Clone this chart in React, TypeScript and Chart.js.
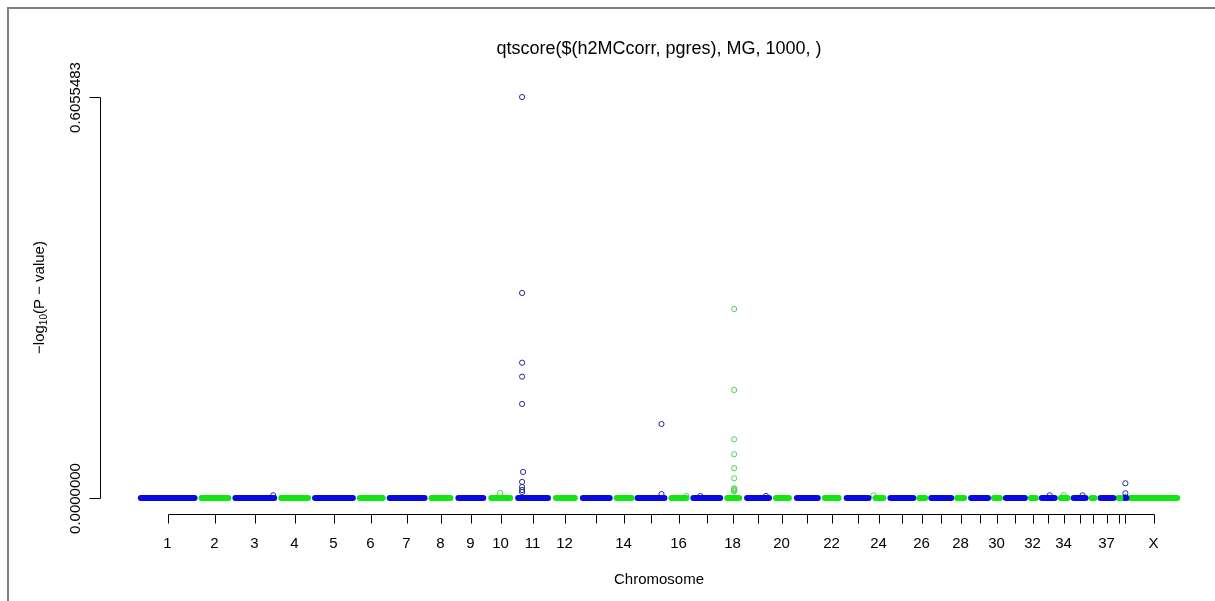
import React, { useEffect, useRef } from 'react';
import { Chart, registerables } from 'chart.js';

Chart.register(...registerables);

// ---------- data ----------
const chartTitle = 'qtscore($(h2MCcorr, pgres), MG, 1000, )';
const xAxisTitle = 'Chromosome';

const chromosomes = [
  '1', '2', '3', '4', '5', '6', '7', '8', '9', '10',
  '11', '12', '13', '14', '15', '16', '17', '18', '19', '20',
  '21', '22', '23', '24', '25', '26', '27', '28', '29', '30',
  '31', '32', '33', '34', '35', '36', '37', '38', '39', 'X',
];

// cumulative map positions (first / last marker) of every chromosome
const chrStart = [
  41, 102, 136, 182, 216, 261, 291, 333, 360, 393,
  420, 458, 485, 519, 540, 574, 596, 630, 650, 679,
  700, 728, 750, 779, 794, 823, 835, 861, 875, 898,
  910, 935, 946, 965, 978, 996, 1005, 1023, 1029, 1035,
];
const chrEnd = [
  95, 129, 175, 209, 254, 284, 326, 352, 385, 412,
  450, 477, 512, 534, 567, 589, 623, 642, 672, 692,
  721, 742, 772, 787, 817, 829, 855, 868, 892, 904,
  929, 940, 959, 972, 990, 999, 1018, 1025, 1031, 1082,
];

// labels R managed to print under the ticks
const chrTickLabels = [
  '1', '2', '3', '4', '5', '6', '7', '8', '9', '10',
  '11', '12', '', '14', '', '16', '', '18', '', '20',
  '', '22', '', '24', '', '26', '', '28', '', '30',
  '', '32', '', '34', '', '', '37', '', '', 'X',
];

// markers standing out of the baseline: chromosome index, position, -log10(P)
const snpChr = [
  2,
  10, 10, 10, 10, 10, 10, 10, 10, 10, 10,
  14, 14,
  16, 18, 32, 34,
  38, 38, 38,
  9, 15,
  17, 17, 17, 17, 17, 17, 17, 17, 17, 17,
  23, 33,
];
const snpPos = [
  174,
  424, 424, 424, 424, 424, 425, 424, 424, 424, 424,
  564, 564,
  603, 669, 954, 987,
  1030, 1030, 1030,
  402, 589,
  637, 637, 637, 637, 637, 637, 637, 637, 637, 637,
  777, 968,
];
const snpLogP = [
  0.004,
  0.6055483, 0.3096, 0.2043, 0.1832, 0.142, 0.0393, 0.0242, 0.0166, 0.0121, 0.009,
  0.1117, 0.006,
  0.003, 0.003, 0.004, 0.004,
  0.0222, 0.0071, 0.001,
  0.0076, 0.003,
  0.2854, 0.1631, 0.0886, 0.066, 0.0449, 0.0297, 0.0146, 0.013, 0.0115, 0.01,
  0.004, 0.004,
];

const yTickValues = [0, 0.6055483];
const yTickLabels = ['0.0000000', '0.6055483'];

// ---------- styles ----------
const BAND_BLUE = '#0a0ae0';
const BAND_GREEN = '#14e614';
const PT_BLUE = '#2a2a96';
const PT_GREEN = '#4ed24e';
const FONT = '"Liberation Sans", Arial, Helvetica, sans-serif';

const yTop = Math.max(...yTickValues);
const yMin = -0.04 * yTop;
const yMax = 1.04 * yTop;
const xMin = 0;
const xMax = 1115;

const rStylePlugin = {
  id: 'rStyle',
  beforeDraw(chart: any) {
    const { ctx, width, height } = chart;
    ctx.save();
    ctx.fillStyle = '#ffffff';
    ctx.fillRect(0, 0, width, height);
    ctx.fillStyle = '#808080';
    ctx.fillRect(7, 7, width - 7, 2);
    ctx.fillRect(7, 7, 2, height - 7);
    ctx.restore();
  },
  afterDraw(chart: any) {
    const { ctx, chartArea } = chart;
    const xs = chart.scales.x;
    const ys = chart.scales.y;
    ctx.save();
    ctx.strokeStyle = '#000000';
    ctx.fillStyle = '#000000';
    ctx.lineWidth = 1;

    // y axis
    const ax = Math.round(chartArea.left) + 0.5;
    const yPix = yTickValues.map((v) => Math.round(ys.getPixelForValue(v)) + 0.5);
    ctx.beginPath();
    ctx.moveTo(ax, Math.min(...yPix));
    ctx.lineTo(ax, Math.max(...yPix));
    yPix.forEach((p) => {
      ctx.moveTo(ax, p);
      ctx.lineTo(ax - 11, p);
    });
    ctx.stroke();
    ctx.font = '15px ' + FONT;
    ctx.textAlign = 'center';
    ctx.textBaseline = 'alphabetic';
    yTickLabels.forEach((lab, i) => {
      ctx.save();
      ctx.translate(80, yPix[i]);
      ctx.rotate(-Math.PI / 2);
      ctx.fillText(lab, 0, 0);
      ctx.restore();
    });

    // x axis
    const by = Math.round(chartArea.bottom) + 0.5;
    const mids = chrStart.map((s, i) => Math.round(xs.getPixelForValue((s + chrEnd[i]) / 2)) + 0.5);
    ctx.beginPath();
    ctx.moveTo(mids[0], by);
    ctx.lineTo(mids[mids.length - 1], by);
    mids.forEach((m) => {
      ctx.moveTo(m, by);
      ctx.lineTo(m, by + 9);
    });
    ctx.stroke();
    ctx.textAlign = 'center';
    chrTickLabels.forEach((lab, i) => {
      if (lab) ctx.fillText(lab, mids[i] - 1, 548);
    });

    const plotCenter = xs.getPixelForValue((Math.min(...chrStart) + Math.max(...chrEnd)) / 2);
    ctx.fillText(xAxisTitle, plotCenter, 584);

    ctx.font = '18px ' + FONT;
    ctx.fillText(chartTitle, plotCenter, 54);

    // y axis title: -log10(P - value)
    const cy = (chartArea.top + chartArea.bottom) / 2;
    ctx.save();
    ctx.translate(44, cy);
    ctx.rotate(-Math.PI / 2);
    ctx.textAlign = 'left';
    const p1 = '\u2212log';
    const p2 = '10';
    const p3 = '(P \u2212 value)';
    ctx.font = '15px ' + FONT;
    const w1 = ctx.measureText(p1).width;
    const w3 = ctx.measureText(p3).width;
    ctx.font = '10px ' + FONT;
    const w2 = ctx.measureText(p2).width;
    let sx = -(w1 + w2 + w3) / 2;
    ctx.font = '15px ' + FONT;
    ctx.fillText(p1, sx, 0);
    sx += w1;
    ctx.font = '10px ' + FONT;
    ctx.fillText(p2, sx, 3);
    sx += w2;
    ctx.font = '15px ' + FONT;
    ctx.fillText(p3, sx, 0);
    ctx.restore();

    ctx.restore();
  },
};

export default function App() {
  const ref = useRef<HTMLCanvasElement | null>(null);

  useEffect(() => {
    if (!ref.current) return;
    const bandSets = chromosomes.map((name, i) => ({
      label: 'chr' + name,
      data: [
        { x: chrStart[i], y: 0 },
        { x: chrEnd[i], y: 0 },
      ],
      showLine: true,
      borderColor: i % 2 === 0 ? BAND_BLUE : BAND_GREEN,
      borderWidth: 6,
      borderCapStyle: 'round' as const,
      pointRadius: 0,
      fill: false,
    }));
    const pts = snpChr.map((c, i) => ({ x: snpPos[i], y: snpLogP[i], c }));
    const blueSet = {
      label: 'odd',
      data: pts.filter((p) => p.c % 2 === 0).map((p) => ({ x: p.x, y: p.y })),
      showLine: false,
      pointStyle: 'circle' as const,
      pointRadius: 2.6,
      pointBorderWidth: 1,
      pointBorderColor: PT_BLUE,
      pointBackgroundColor: 'rgba(0,0,0,0)',
    };
    const greenSet = {
      label: 'even',
      data: pts.filter((p) => p.c % 2 === 1).map((p) => ({ x: p.x, y: p.y })),
      showLine: false,
      pointStyle: 'circle' as const,
      pointRadius: 2.6,
      pointBorderWidth: 1,
      pointBorderColor: PT_GREEN,
      pointBackgroundColor: 'rgba(0,0,0,0)',
    };

    const chart = new Chart(ref.current, {
      type: 'scatter',
      data: { datasets: [...bandSets, blueSet, greenSet] as any },
      options: {
        animation: false,
        responsive: false,
        devicePixelRatio: 1,
        events: [],
        layout: { padding: { left: 100, right: 0, top: 81, bottom: 87 } },
        plugins: {
          legend: { display: false },
          tooltip: { enabled: false },
          title: { display: false },
        },
        scales: {
          x: { type: 'linear', min: xMin, max: xMax, display: false },
          y: { type: 'linear', min: yMin, max: yMax, display: false },
        },
      },
      plugins: [rStylePlugin],
    });
    return () => chart.destroy();
  }, []);

  return (
    <div style={{ position: 'absolute', left: 0, top: 0, width: 1215, height: 601 }}>
      <canvas ref={ref} width={1215} height={601} style={{ display: 'block' }} />
    </div>
  );
}
